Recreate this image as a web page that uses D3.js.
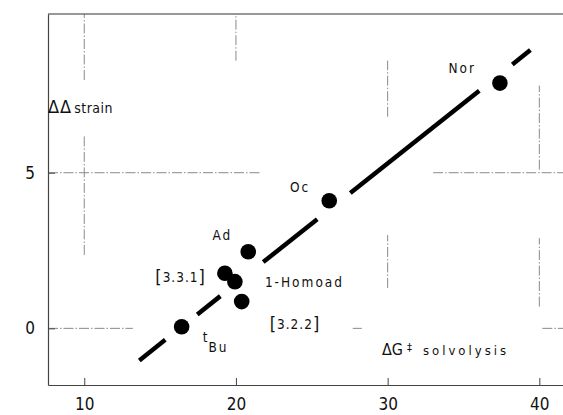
<!DOCTYPE html>
<html>
<head>
<meta charset="utf-8">
<script src="https://cdn.jsdelivr.net/npm/d3@7"></script>
<style>
body { margin: 0; background: #fff; }
svg { display: block; font-family: "DejaVu Sans", sans-serif; font-stretch: condensed; }
</style>
</head>
<body>
<svg id="chart" width="563" height="415"></svg>
<script>
// substrates
const names = ["tBu", "[3.3.1]", "1-Homoad", "[3.2.2]", "Ad", "Oc", "Nor"];
const dGsolv = [16.42, 19.27, 19.93, 20.38, 20.81, 26.15, 37.40];
const ddStrain = [0.05, 1.77, 1.50, 0.86, 2.46, 4.10, 7.88];

const xTicks = [10, 20, 30, 40];
const yTicks = [0, 5];

// correlation line  ddStrain = a + b * dG, drawn in pieces (broken round the points)
const fitIntercept = -6.30;
const fitSlope = 0.3867;
const fitPieces = [[13.63, 15.34], [17.45, 18.97], [21.80, 25.36], [27.54, 36.04], [38.22, 39.41]];

// what is left of the faint grid: [value, from, to]
const vGrid = [[10, 7.98, 10.1], [10, 2.36, 6.21], [20, 8.6, 10.1], [30, 6.8, 8.6], [30, 1.3, 3.0], [40, 0.7, 2.9], [40, 5.1, 7.8]];
const hGrid = [[5, 7.61, 21.6], [5, 33.0, 41.56], [0, 7.61, 13.2], [0, 27.7, 28.3], [0, 40.2, 41.56]];

const svg = d3.select("#chart");
const plotLeft = 48, plotRight = 563, plotTop = 14, plotBottom = 385;

let x = d3.scaleLinear().domain([7.61, 41.56]).range([plotLeft, plotRight]);
let y = d3.scaleLinear().domain([-1.82, 10.1]).range([plotBottom, plotTop]);

// grid
let grid = svg.append("g").attr("class", "grid");
grid.selectAll("line.v").data(vGrid).enter()
	.append("line").attr("class", "v")
	.attr("x1", d => x(d[0])).attr("x2", d => x(d[0]))
	.attr("y1", d => y(d[1])).attr("y2", d => y(d[2]));
grid.selectAll("line.h").data(hGrid).enter()
	.append("line").attr("class", "h")
	.attr("y1", d => y(d[0])).attr("y2", d => y(d[0]))
	.attr("x1", d => x(d[1])).attr("x2", d => x(d[2]));
grid.selectAll("line")
	.attr("stroke", "#8a8a8a")
	.attr("stroke-width", 1)
	.attr("stroke-dasharray", "10,2,1.5,2");

// frame top
svg.append("line")
	.attr("x1", plotLeft).attr("x2", plotRight)
	.attr("y1", plotTop).attr("y2", plotTop)
	.attr("stroke", "#333").attr("stroke-width", 1.2);

let xAxis = d3.axisBottom(x).tickValues(xTicks).tickSizeInner(-7).tickSizeOuter(0).tickPadding(13);
let yAxis = d3.axisLeft(y).tickValues(yTicks).tickSizeInner(-7).tickSizeOuter(0).tickPadding(13);

let gx = svg.append("g").attr("transform", `translate(0,${plotBottom})`).call(xAxis);
let gy = svg.append("g").attr("transform", `translate(${plotLeft},0)`).call(yAxis);
[gx, gy].forEach(g => {
	g.select(".domain").attr("stroke", "#444").attr("stroke-width", 1.2);
	g.selectAll(".tick line").attr("stroke", "#444");
	g.selectAll(".tick text")
		.attr("fill", "#111")
		.style("font-size", "17px")
		.style("font-family", "\"DejaVu Sans\", sans-serif")
		.style("font-stretch", "condensed");
});

// line pieces
let line = d3.line()
	.x(d => x(d))
	.y(d => y(fitIntercept + fitSlope * d));
svg.append("g").attr("class", "fit")
	.selectAll("path").data(fitPieces).enter()
	.append("path")
	.attr("d", d => line(d))
	.attr("fill", "none")
	.attr("stroke", "#000")
	.attr("stroke-width", 4.5);

// points
let data = names.map((n, i) => ({ name: n, dg: dGsolv[i], ds: ddStrain[i] }));
svg.append("g").attr("class", "points")
	.selectAll("circle").data(data).enter()
	.append("circle")
	.attr("cx", d => x(d.dg))
	.attr("cy", d => y(d.ds))
	.attr("r", 7.8)
	.attr("fill", "#000");

// label placement next to each point: dx, dy, anchor
const labelPlace = {
	"tBu": [21, 15, "start"],
	"[3.3.1]": [-20, 9, "end"],
	"1-Homoad": [30, 5, "start"],
	"[3.2.2]": [28, 27, "start"],
	"Ad": [-16, -12, "end"],
	"Oc": [-19, -9, "end"],
	"Nor": [-24, -10, "end"]
};
let labels = svg.append("g").attr("class", "labels")
	.selectAll("text").data(data).enter()
	.append("text")
	.attr("x", d => x(d.dg) + labelPlace[d.name][0])
	.attr("y", d => y(d.ds) + labelPlace[d.name][1])
	.attr("text-anchor", d => labelPlace[d.name][2])
	.attr("fill", "#111")
	.style("font-size", "13.5px")
	.style("letter-spacing", "2px");
labels.each(function(d) {
	let t = d3.select(this);
	if (d.name === "tBu") {
		t.append("tspan").text("t");
		t.append("tspan").attr("dy", 10).attr("dx", -1).text("Bu");
	} else if (d.name.charAt(0) === "[") {
		// bridged bicyclics: tall brackets round the ring sizes
		t.append("tspan").style("font-size", "18px").style("letter-spacing", "0px").attr("dy", 1).text("[");
		t.append("tspan").style("letter-spacing", "1px").attr("dy", -1).attr("dx", 1).text(d.name.slice(1, -1));
		t.append("tspan").style("font-size", "18px").style("letter-spacing", "0px").attr("dy", 1).text("]");
	} else {
		t.text(d.name);
	}
});

// axis titles
let yt = svg.append("text").attr("x", plotLeft).attr("y", 113).attr("fill", "#111");
yt.append("tspan").style("font-size", "18px").style("letter-spacing", "1px").text("ΔΔ");
yt.append("tspan").attr("dx", 2).style("font-size", "14px").style("letter-spacing", "0.5px").text("strain");

let xt = svg.append("text").attr("x", 382).attr("y", 355).attr("fill", "#111");
xt.append("tspan").style("font-size", "16px").text("ΔG");
xt.append("tspan").attr("dx", 4).attr("dy", -4).style("font-size", "11px").text("‡");
xt.append("tspan").attr("dx", 11).attr("dy", 4).style("font-size", "13px").style("letter-spacing", "3px").text("solvolysis");
</script>
</body>
</html>
